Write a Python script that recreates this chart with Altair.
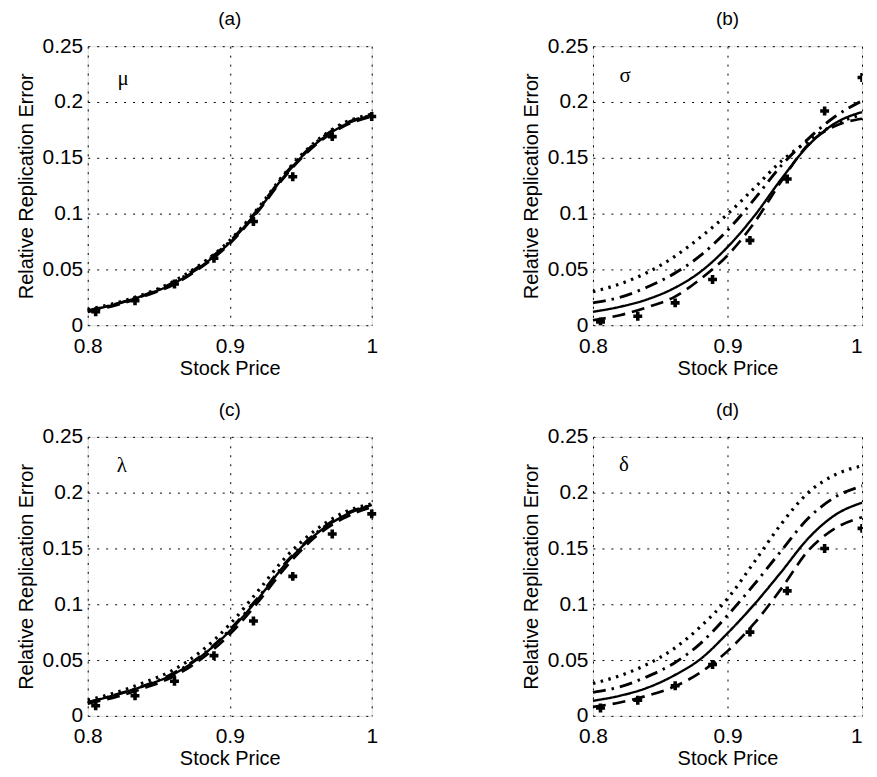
import altair as alt
import pandas as pd

# ---------------- data ----------------
x_grid = [0.80, 0.82, 0.84, 0.86, 0.88, 0.90, 0.92, 0.94, 0.96, 0.98, 1.00]
marker_x = [0.8056, 0.8333, 0.8611, 0.8889, 0.9167, 0.9444, 0.9722, 1.0]

a_solid   = [0.013, 0.019, 0.027, 0.037, 0.053, 0.074, 0.103, 0.136, 0.162, 0.179, 0.188]
a_dashed  = [0.012, 0.018, 0.026, 0.036, 0.052, 0.073, 0.102, 0.135, 0.161, 0.178, 0.187]
a_dashdot = [0.013, 0.019, 0.027, 0.038, 0.054, 0.075, 0.104, 0.137, 0.163, 0.180, 0.188]
a_dotted  = [0.014, 0.020, 0.028, 0.039, 0.055, 0.076, 0.105, 0.138, 0.164, 0.181, 0.189]
a_markers = [0.012, 0.022, 0.037, 0.060, 0.093, 0.133, 0.169, 0.187]

b_solid   = [0.012, 0.0165, 0.023, 0.033, 0.048, 0.070, 0.098, 0.131, 0.161, 0.181, 0.191]
b_dashed  = [0.0045, 0.009, 0.016, 0.025, 0.0415, 0.0625, 0.092, 0.129, 0.162, 0.1785, 0.185]
b_dashdot = [0.020, 0.025, 0.034, 0.046, 0.0625, 0.085, 0.113, 0.143, 0.167, 0.187, 0.201]
b_dotted  = [0.030, 0.037, 0.047, 0.061, 0.079, 0.0995, 0.123, 0.147, 0.165, 0.180, 0.189]
b_markers = [0.003, 0.008, 0.020, 0.041, 0.076, 0.131, 0.192, 0.222]

c_solid   = [0.012, 0.019, 0.027, 0.037, 0.0535, 0.076, 0.105, 0.137, 0.162, 0.179, 0.189]
c_dashed  = [0.011, 0.017, 0.025, 0.035, 0.051, 0.073, 0.102, 0.134, 0.160, 0.177, 0.187]
c_dashdot = [0.012, 0.019, 0.027, 0.038, 0.054, 0.077, 0.106, 0.138, 0.163, 0.180, 0.189]
c_dotted  = [0.014, 0.021, 0.030, 0.041, 0.058, 0.082, 0.112, 0.143, 0.166, 0.182, 0.190]
c_markers = [0.009, 0.018, 0.031, 0.054, 0.085, 0.125, 0.163, 0.181]

d_solid   = [0.0135, 0.018, 0.025, 0.036, 0.051, 0.074, 0.100, 0.129, 0.159, 0.180, 0.191]
d_dashed  = [0.008, 0.012, 0.018, 0.026, 0.039, 0.058, 0.083, 0.114, 0.148, 0.168, 0.178]
d_dashdot = [0.021, 0.026, 0.035, 0.047, 0.065, 0.090, 0.118, 0.148, 0.177, 0.196, 0.206]
d_dotted  = [0.029, 0.036, 0.046, 0.060, 0.080, 0.105, 0.138, 0.172, 0.200, 0.216, 0.224]
d_markers = [0.007, 0.014, 0.027, 0.046, 0.075, 0.112, 0.150, 0.168]

panels = ["a", "b", "c", "d"]
panel_titles = ["(a)", "(b)", "(c)", "(d)"]
greek = ["μ", "σ", "λ", "δ"]
greek_x = [0.825, 0.824, 0.824, 0.823]
greek_y = [0.221, 0.223, 0.224, 0.225]

series_names = ["solid", "dashed", "dashdot", "dotted"]
lines_by_panel = {
    "a": [a_solid, a_dashed, a_dashdot, a_dotted],
    "b": [b_solid, b_dashed, b_dashdot, b_dotted],
    "c": [c_solid, c_dashed, c_dashdot, c_dotted],
    "d": [d_solid, d_dashed, d_dashdot, d_dotted],
}
markers_by_panel = {"a": a_markers, "b": b_markers, "c": c_markers, "d": d_markers}

FONT = "Liberation Sans"
H = 280
WIDTHS = [285, 270, 285, 270]


def make_panel(i):
    p = panels[i]
    rows = []
    for s, vals in zip(series_names, lines_by_panel[p]):
        for xv, yv in zip(x_grid, vals):
            rows.append({"x": xv, "y": yv, "series": s})
    ldf = pd.DataFrame(rows)
    mdf = pd.DataFrame({"x": marker_x, "y": markers_by_panel[p]})
    tdf = pd.DataFrame({"x": [greek_x[i]], "y": [greek_y[i]], "t": [greek[i]]})

    right = i in (1, 3)
    xs = alt.Scale(domain=[0.8, 1.0], nice=False, zero=False)
    ys = alt.Scale(domain=[0, 0.25], nice=False, zero=True)
    x_kw = dict(values=[0.8, 0.9, 1.0], format="~g", title="Stock Price",
                grid=True, gridDash=[2, 7], gridColor="black", gridOpacity=1,
                gridWidth=1, ticks=False, domain=False, labelFontSize=21,
                labelFont=FONT, labelColor="black", labelPadding=10,
                titleFont=FONT, titleFontSize=20, titleFontWeight="normal",
                titleColor="black", titlePadding=2, labelFlush=False)
    if right:
        x_kw["labelAlign"] = alt.ExprRef(
            expr="datum.value >= 0.999 ? 'right' : 'center'")
    xax = alt.Axis(**x_kw)
    yax = alt.Axis(values=[0, 0.05, 0.1, 0.15, 0.2, 0.25], format="~g",
                   title="Relative Replication Error",
                   grid=True, gridDash=[2, 7], gridColor="black", gridOpacity=1,
                   gridWidth=1, ticks=False, domain=False, labelFontSize=21,
                   labelFont=FONT, labelColor="black", labelPadding=5,
                   titleFont=FONT, titleFontSize=20, titleFontWeight="normal",
                   titleColor="black", titlePadding=6, labelFlush=False)

    lines = alt.Chart(ldf).mark_line(color="black", interpolate="monotone").encode(
        x=alt.X("x:Q", scale=xs, axis=xax),
        y=alt.Y("y:Q", scale=ys, axis=yax),
        detail="series:N",
        strokeDash=alt.StrokeDash("series:N", scale=alt.Scale(
            domain=series_names,
            range=[[1, 0], [13, 7], [13, 6, 2.5, 6], [2.5, 5.5]]), legend=None),
        strokeWidth=alt.StrokeWidth("series:N", scale=alt.Scale(
            domain=series_names, range=[2.4, 3.2, 3.2, 3.2]), legend=None),
    )
    marks = alt.Chart(mdf).mark_point(shape="cross", filled=True, color="black",
                                      size=80, opacity=1, clip=right).encode(
        x=alt.X("x:Q", scale=xs), y=alt.Y("y:Q", scale=ys))
    label = alt.Chart(tdf).mark_text(font="Liberation Serif", fontSize=21,
                                     color="black", align="center",
                                     baseline="middle").encode(
        x=alt.X("x:Q", scale=xs), y=alt.Y("y:Q", scale=ys), text="t:N")

    return alt.layer(lines, marks, label).properties(
        width=WIDTHS[i], height=H,
        title=alt.TitleParams(panel_titles[i], font=FONT, fontSize=19,
                              fontWeight="normal", color="black", offset=6),
    )


chart = alt.concat(
    make_panel(0), make_panel(1), make_panel(2), make_panel(3),
    columns=2, spacing={"row": 112, "column": 222}, bounds="flush",
).properties(
    padding={"left": 7, "top": 0, "right": 0, "bottom": 0}
).configure_view(stroke="black", strokeWidth=1.5).configure(background="white")

chart.save("out.html", embed_options={"renderer": "svg", "actions": False})
